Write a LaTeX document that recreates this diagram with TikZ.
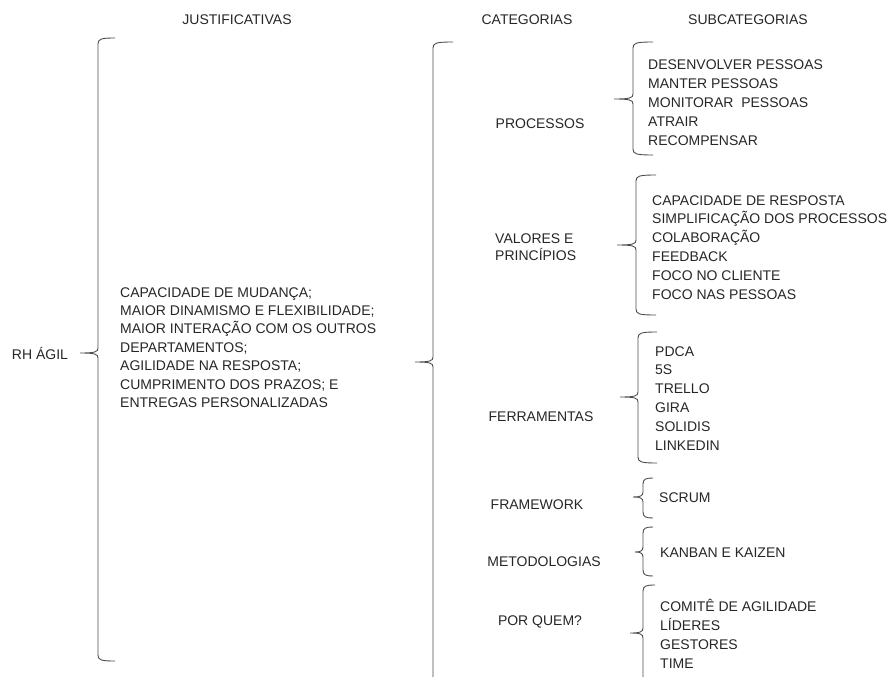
\documentclass[tikz,border=0pt]{standalone}
\usepackage{fontspec}
\setmainfont{Liberation Sans}
\definecolor{textc}{HTML}{262626}
\definecolor{linec}{HTML}{4d4d4d}
% #1 x of vertical, #2 top, #3 bottom, #4 tip x, #5 tip y, #6 hook x
\newcommand{\curlyb}[6]{%
  \draw[bracec] (#6,#2) .. controls (#1+3,#2) and (#1,#2+1) .. (#1,#2+6)
    -- (#1,#5-5) .. controls (#1,#5-1) and (#1-3,#5) .. (#4,#5)
    (#4,#5) .. controls (#1-3,#5) and (#1,#5+1) .. (#1,#5+5)
    -- (#1,#3-6) .. controls (#1,#3-1) and (#1+3,#3) .. (#6,#3);}
\begin{document}
\begin{tikzpicture}[x=1pt,y=-1pt,
  txt/.style={font=\fontsize{14}{17}\selectfont, text=textc, inner sep=0pt},
  bracec/.style={draw=linec, line width=0.9pt}]
\useasboundingbox (0,0) rectangle (896,677);
% headers
\node[txt] (hjust) at (237,20) {JUSTIFICATIVAS};
\node[txt] (hcat) at (527,20) {CATEGORIAS};
\node[txt] (hsub) at (748,20) {SUBCATEGORIAS};
% root
\node[txt] (root) at (40,353) {RH ÁGIL};
% braces
\curlyb{98}{38}{661}{80}{353}{115}
\draw[bracec] (453,42) .. controls (436,42) and (433,43) .. (433,48)
    -- (433,357) .. controls (433,361) and (430,362) .. (415,362)
    (415,362) .. controls (430,362) and (433,363) .. (433,367) -- (433,677);
\curlyb{633}{42}{155}{614}{99}{653}
\curlyb{636}{175}{315}{617}{245}{656}
\curlyb{638}{332}{463}{620}{397}{657}
\curlyb{643}{478}{518}{633}{497}{653}
\curlyb{643}{527}{576}{635}{552}{653}
\draw[bracec] (655,585) .. controls (646,585) and (643,586) .. (643,591)
    -- (643,628) .. controls (643,632) and (640,633) .. (630,633)
    (630,633) .. controls (640,633) and (643,634) .. (643,638) -- (643,677);
% justifications
\foreach \t [count=\i] in {{CAPACIDADE DE MUDANÇA;},{MAIOR\ DINAMISMO\ E FLEXIBILIDADE;},{MAIOR\ INTERAÇÃO\ COM OS OUTROS},{DEPARTAMENTOS;},{AGILIDADE\ NA RESPOSTA;},{CUMPRIMENTO\ DOS PRAZOS;\ E},{ENTREGAS PERSONALIZADAS}}
  \node[txt, anchor=base west] (just\i) at (120,{297+18.4*(\i-1)}) {\t};
% categories
\node[txt] (cproc) at (540,124) {PROCESSOS};
\node[txt, anchor=base west] (cval1) at (495,243) {VALORES E};
\node[txt, anchor=base west] (cval2) at (495,260) {PRINCÍPIOS};
\node[txt] (cferr) at (541,417) {FERRAMENTAS};
\node[txt] (cfram) at (537,505) {FRAMEWORK};
\node[txt] (cmet) at (544,562) {METODOLOGIAS};
\node[txt] (cpq) at (540,622) {POR QUEM?};
% subcategories
\foreach \t [count=\i] in {DESENVOLVER PESSOAS,MANTER\ PESSOAS,MONITORAR\ \ PESSOAS,ATRAIR,RECOMPENSAR}
  \node[txt, anchor=base west] (sproc\i) at (648,{70+18.8*(\i-1)}) {\t};
\foreach \t [count=\i] in {CAPACIDADE DE RESPOSTA,SIMPLIFICAÇÃO\ DOS PROCESSOS,COLABORAÇÃO,FEEDBACK,FOCO NO CLIENTE,FOCO NAS PESSOAS}
  \node[txt, anchor=base west] (sval\i) at (652,{205+18.8*(\i-1)}) {\t};
\foreach \t [count=\i] in {PDCA,5S,TRELLO,GIRA,SOLIDIS,LINKEDIN}
  \node[txt, anchor=base west] (sferr\i) at (655,{356+18.9*(\i-1)}) {\t};
\node[txt, anchor=base west] (sfram) at (659,502) {SCRUM};
\node[txt, anchor=base west] (smet) at (660,557) {KANBAN E KAIZEN};
\foreach \t [count=\i] in {COMITÊ\ DE AGILIDADE,LÍDERES,GESTORES,TIME}
  \node[txt, anchor=base west] (spq\i) at (660,{611+19*(\i-1)}) {\t};
\end{tikzpicture}
\end{document}
